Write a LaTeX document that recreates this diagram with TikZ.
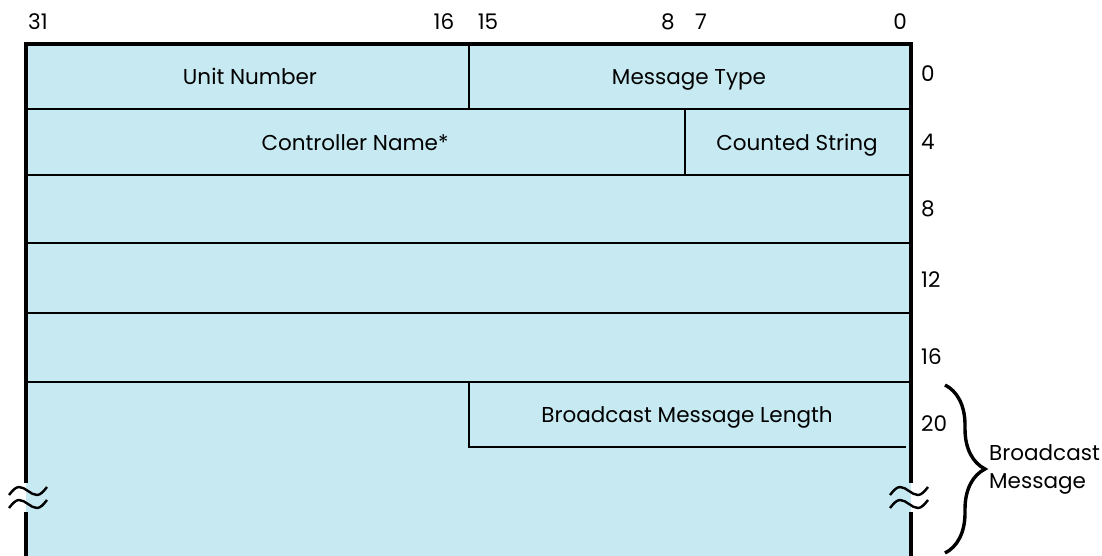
\documentclass[tikz,border=0pt]{standalone}
\usepackage{fontspec}
\setmainfont{Poppins}
\usetikzlibrary{decorations.pathreplacing}
\definecolor{FieldBlue}{HTML}{C6E9F2}
\tikzset{
  frame/.style={line width=4.5pt, draw=black},
  divider/.style={line width=2.6pt, draw=black},
  label/.style={font=\fontsize{21.5}{28}\selectfont, inner sep=0pt, anchor=base},
  bitno/.style={label},
  offset/.style={label, anchor=base west},
  wave/.style={line width=2.4pt, draw=black},
  grouping/.style={decorate, decoration={brace, amplitude=40pt}, line width=3.4pt},
}

\begin{document}
\begin{tikzpicture}[x=1pt,y=-1pt]
    \useasboundingbox (0,0) rectangle (1102,556);
    % register body
    \fill[FieldBlue] (26,44) rectangle (911,556);
    \foreach \y in {109,175,243,313,382}
      \draw[divider] (26,\y) -- (911,\y);
    \draw[divider] (469,44) -- (469,109);
    \draw[divider] (685,109) -- (685,175);
    \draw[divider] (469,382) -- (469,447) -- (906,447);
    \draw[frame] (26,483) -- (26,44) -- (911,44) -- (911,483);
    \draw[frame] (26,512) -- (26,556);
    \draw[frame] (911,512) -- (911,556);
    % break marks
    \foreach \x in {9,890}
      \foreach \dy in {0,13}
        \draw[wave] (\x,495+\dy) sin (\x+10,487+\dy) cos (\x+19,491+\dy) sin (\x+28,495+\dy) cos (\x+38,487+\dy);
    % fields
    \node[label] (unit) at (250,85) {Unit Number};
    \node[label] (mtype) at (689,85) {Message Type};
    \node[label] (cname) at (355,151) {Controller Name*};
    \node[label] (cstr) at (797,151) {Counted String};
    \node[label] (blen) at (687,422) {Broadcast Message Length};
    % bit numbers
    \node[bitno] (b31) at (38,30) {31};
    \node[bitno] (b16) at (444,30) {16};
    \node[bitno] (b15) at (488,30) {15};
    \node[bitno] (b8) at (668,30) {8};
    \node[bitno] (b7) at (701,30) {7};
    \node[bitno] (b0) at (900,30) {0};
    % byte offsets
    \node[offset] (o0) at (921,82) {0};
    \node[offset] (o4) at (921,150) {4};
    \node[offset] (o8) at (921,216) {8};
    \node[offset] (o12) at (921,287) {12};
    \node[offset] (o16) at (921,364) {16};
    \node[offset] (o20) at (921,431) {20};
    % broadcast message brace
    \coordinate (gtop) at (945,385);
    \coordinate (gbot) at (945,553);
    \draw[grouping] (gtop) -- (gbot);
    \node[label, anchor=base west, align=left] (bmsg) at (989,488) {Broadcast\\Message};
\end{tikzpicture}
\end{document}
